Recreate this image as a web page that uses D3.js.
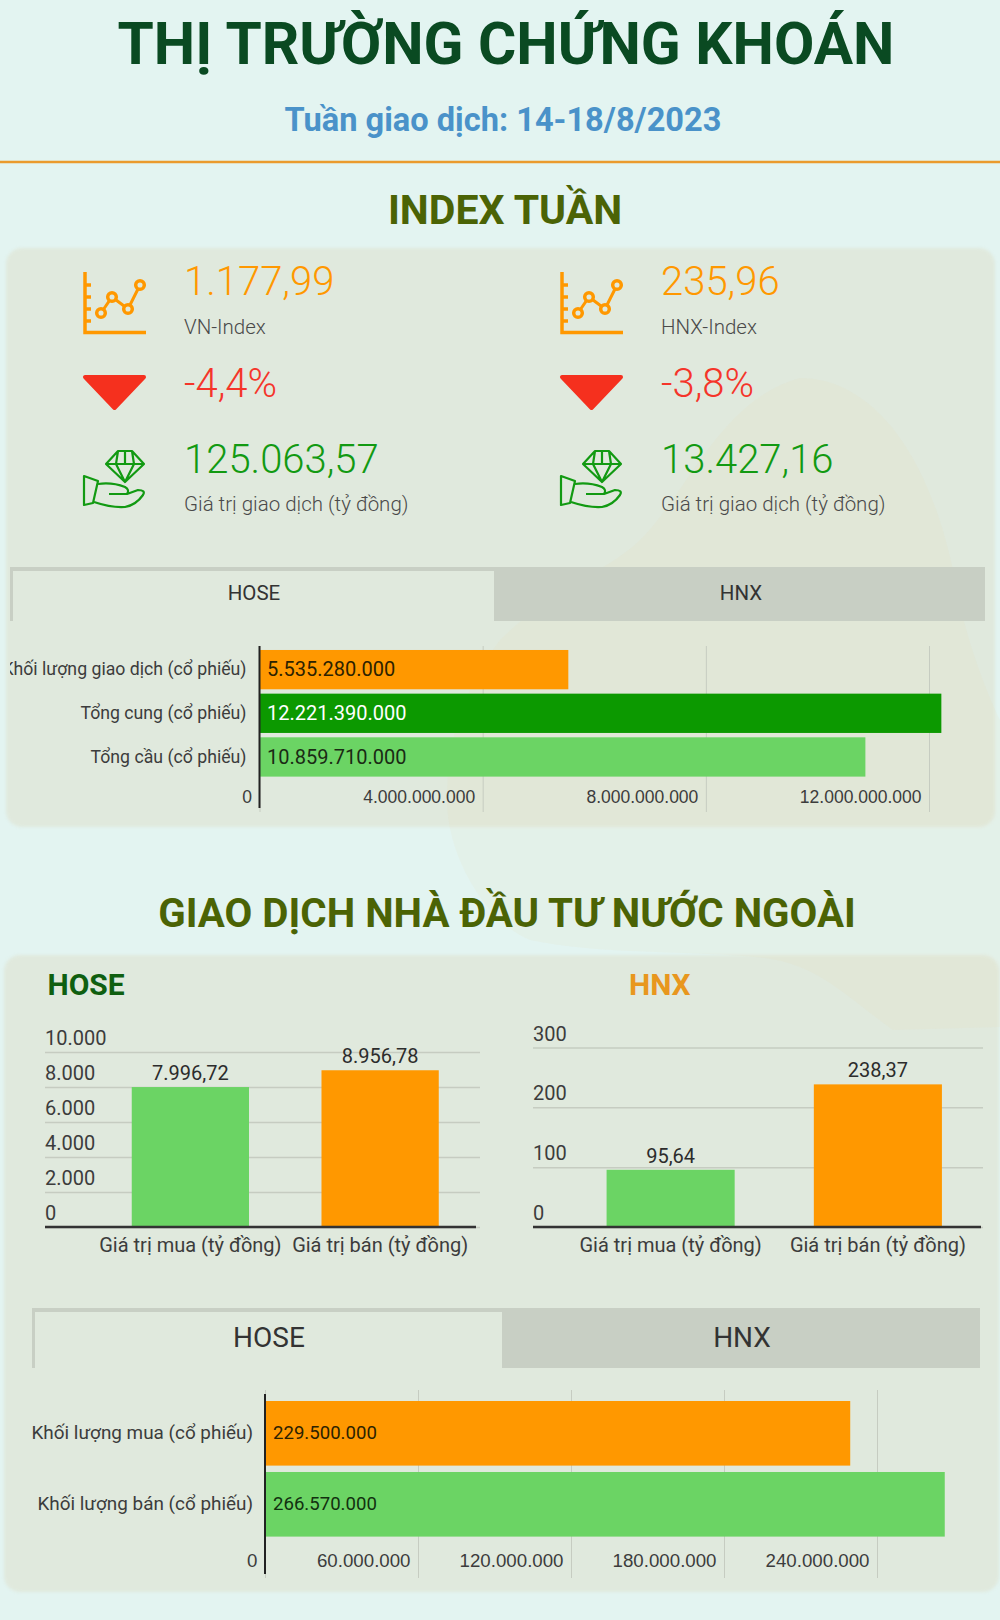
<!DOCTYPE html>
<html lang="vi">
<head>
<meta charset="utf-8">
<script src="https://cdn.jsdelivr.net/npm/d3@7"></script>
<style>
  html, body { margin: 0; background: #e3f4f1; }
  svg { display: block; font-family: Roboto, sans-serif; }
  .tick text { fill: #3c3c3c; }
  .panel { filter: blur(1.5px); }
</style>
</head>
<body>
<script>
// data
var indexNames = ["VN-Index", "HNX-Index"]
var indexPoints = [1177.99, 235.96]
var indexChanges = [-4.4, -3.8]
var indexTurnover = [125063.57, 13427.16]
var turnoverLabel = "Giá trị giao dịch (tỷ đồng)"

var volumeCats = ["Khối lượng giao dịch (cổ phiếu)", "Tổng cung (cổ phiếu)", "Tổng cầu (cổ phiếu)"]
var volumeVals = [5535280000, 12221390000, 10859710000]
var volumeTicks = [0, 4000000000, 8000000000, 12000000000]

var foreignCats = ["Giá trị mua (tỷ đồng)", "Giá trị bán (tỷ đồng)"]
var foreignHose = [7996.72, 8956.78]
var foreignHoseTicks = [0, 2000, 4000, 6000, 8000, 10000]
var foreignHnx = [95.64, 238.37]
var foreignHnxTicks = [0, 100, 200, 300]

var foreignVolCats = ["Khối lượng mua (cổ phiếu)", "Khối lượng bán (cổ phiếu)"]
var foreignVolVals = [229500000, 266570000]
var foreignVolTicks = [0, 60000000, 120000000, 180000000, 240000000]

var tabNames = ["HOSE", "HNX"]

var ORANGE = "#ff9800", LIGHT_GREEN = "#6bd464", DARK_GREEN = "#0c9900"

var vn = d3.formatLocale({ decimal: ",", thousands: ".", grouping: [3], currency: ["", ""], minus: "-" })
var fmtInt = vn.format(",d")
var fmt2 = vn.format(",.2f")
var fmtPct = vn.format(".1f")

var svg = d3.select("body").append("svg")
  .attr("width", 1000)
  .attr("height", 1620)

svg.append("defs").append("clipPath")
  .attr("id", "label-clip")
  .append("rect")
    .attr("x", 10).attr("y", 600).attr("width", 300).attr("height", 240)

function label(x, y, str, size, color, opts) {
  opts = opts || {}
  return svg.append("text")
    .attr("x", x)
    .attr("y", y)
    .attr("text-anchor", opts.anchor || "start")
    .attr("font-size", size)
    .attr("font-weight", opts.weight || 400)
    .attr("fill", color)
    .text(str)
}

// panels and the pale blob behind everything
svg.append("rect").attr("class", "panel").attr("x", 6).attr("y", 248).attr("width", 989).attr("height", 579).attr("rx", 16).attr("fill", "#e0e9dd")
svg.append("rect").attr("class", "panel").attr("x", 4).attr("y", 955).attr("width", 995).attr("height", 637).attr("rx", 16).attr("fill", "#e0e9dd")
svg.append("path")
  .attr("d", "M800,378 C870,378 930,450 955,580 C965,640 990,700 1000,720 L1000,1027 L893,1030 C850,1000 820,965 765,958 C690,950 600,955 530,940 C490,925 447,860 447,800 C447,730 470,680 500,640 C550,590 610,570 640,540 C690,490 720,400 800,378 Z")
  .attr("fill", "#e8d9a8")
  .attr("opacity", 0.1)

// headings
label(506, 64, "THỊ TRƯỜNG CHỨNG KHOÁN", 58.6, "#0a4a22", { anchor: "middle", weight: 700 })
label(503, 131, "Tuần giao dịch: 14-18/8/2023", 32.6, "#4a92c9", { anchor: "middle", weight: 700 })
svg.append("line").attr("x1", 0).attr("x2", 1000).attr("y1", 162).attr("y2", 162).attr("stroke", "#ea9a2d").attr("stroke-width", 2.5)
label(505, 224, "INDEX TUẦN", 41, "#4b6305", { anchor: "middle", weight: 700 })
label(507, 927, "GIAO DỊCH NHÀ ĐẦU TƯ NƯỚC NGOÀI", 40.3, "#4b6305", { anchor: "middle", weight: 700 })

// icons
function chartIcon(dx) {
  var g = svg.append("g").attr("transform", "translate(" + dx + ",0)")
    .attr("fill", "none").attr("stroke", ORANGE).attr("stroke-width", 3.5)
  g.append("path").attr("d", "M85,272 V332.5 H146 M85,285 H91 M85,297 H91 M85,309 H91 M85,321 H91")
  g.append("path").attr("stroke-width", 3).attr("d", "M101,313 L112,297 L128,309 L140,285")
  g.selectAll("circle").data([[101, 313], [112, 297], [128, 309], [140, 285]]).enter().append("circle")
    .attr("cx", function(d) { return d[0] })
    .attr("cy", function(d) { return d[1] })
    .attr("r", 4.3)
    .attr("fill", "#e0e9dd")
}

function downIcon(dx) {
  svg.append("path")
    .attr("transform", "translate(" + dx + ",0)")
    .attr("d", "M85,377 H144 L114.5,408 Z")
    .attr("fill", "#f5301e")
    .attr("stroke", "#f5301e")
    .attr("stroke-width", 4)
    .attr("stroke-linejoin", "round")
}

function handIcon(dx) {
  var g = svg.append("g").attr("transform", "translate(" + dx + ",0)")
    .attr("fill", "none").attr("stroke", "#129a12").attr("stroke-width", 2.2).attr("stroke-linejoin", "round")
  g.append("path").attr("d", "M118,451 H132 L144,464 L125,482 L106,464 Z M106,464 H144 M118,451 L116,464 L125,482 L134,464 L132,451 M125,451 V464")
  g.append("path").attr("d", "M84,476 L98,481 L93,503 L84,505 Z")
  g.append("path").attr("d", "M98,484 Q112,482 125,487 Q130,490 127,494 L109,494 M127,494 L138,490 Q146,490 143,495 Q136,505 125,507 Q112,508 94,502")
}

// index cards
indexNames.forEach(function(name, i) {
  var dx = i * 477
  chartIcon(dx)
  downIcon(dx)
  handIcon(dx)
  label(184 + dx, 295, fmt2(indexPoints[i]), 40, ORANGE, { weight: 300 })
  label(184 + dx, 334, name, 20.5, "#4a4a4a", { weight: 300 })
  label(184 + dx, 397, fmtPct(indexChanges[i]) + "%", 40, "#f5352a", { weight: 300 })
  label(184 + dx, 473, fmt2(indexTurnover[i]), 40, "#129a12", { weight: 300 })
  label(184 + dx, 511, turnoverLabel, 20.5, "#4a4a4a", { weight: 300 })
})

function tabs(x0, xMid, x1, y0, y1, size, baseline, centers) {
  svg.append("rect").attr("x", x0).attr("y", y0).attr("width", x1 - x0).attr("height", y1 - y0).attr("fill", "#c8cfc4")
  svg.append("rect").attr("x", x0 + 3).attr("y", y0 + 4).attr("width", xMid - x0 - 3).attr("height", y1 - y0 + 2).attr("fill", "#e0e9dd")
  tabNames.forEach(function(name, i) {
    label(centers[i], baseline, name, size, "#333", { anchor: "middle" })
  })
}

// horizontal bars with the grid ticks sitting left of each line
function hBars(o) {
  var x = d3.scaleLinear().domain(o.domain).range(o.xRange)
  var y = d3.scaleBand().domain(o.cats).range(o.yRange).paddingInner(o.pad).paddingOuter(o.pad / 2)

  svg.append("g")
    .attr("transform", "translate(0," + o.gridBottom + ")")
    .attr("font-family", "Roboto, sans-serif")
    .call(d3.axisBottom(x).tickValues(o.ticks).tickSize(o.gridTop - o.gridBottom).tickFormat(fmtInt))
    .call(function(g) { g.select(".domain").remove() })
    .call(function(g) { g.selectAll(".tick line").attr("stroke", "#c6ccc1") })
    .call(function(g) {
      g.selectAll(".tick text")
        .attr("font-size", o.tickSize)
        .attr("text-anchor", "end")
        .attr("x", -8)
        .attr("y", o.tickY)
        .attr("dy", 0)
    })

  svg.selectAll(null).data(o.cats).enter().append("rect")
    .attr("x", x(0))
    .attr("y", function(d) { return y(d) })
    .attr("width", function(d, i) { return x(o.vals[i]) - x(0) })
    .attr("height", y.bandwidth())
    .attr("fill", function(d, i) { return o.colors[i] })

  svg.append("line")
    .attr("x1", x(0)).attr("x2", x(0))
    .attr("y1", o.axisTop).attr("y2", o.axisBottom)
    .attr("stroke", "#222").attr("stroke-width", 2)

  var catAxis = svg.append("g")
    .attr("transform", "translate(" + x(0) + ",0)")
    .call(d3.axisLeft(y).tickSize(0).tickPadding(o.catPad))
    .call(function(g) { g.select(".domain").remove() })
  catAxis.selectAll(".tick text").attr("font-size", o.catSize).attr("font-family", "Roboto, sans-serif")

  svg.selectAll(null).data(o.cats).enter().append("text")
    .attr("x", x(0) + o.valPad)
    .attr("y", function(d) { return y(d) + y.bandwidth() / 2 })
    .attr("dy", "0.33em")
    .attr("font-size", o.valSize)
    .attr("fill", function(d, i) { return o.valColors[i] })
    .text(function(d, i) { return fmtInt(o.vals[i]) })

  return catAxis
}

// vertical bars, tick labels stand above the grid lines at the left end
function vBars(o) {
  var x = d3.scaleBand().domain(o.cats).range(o.xRange).paddingInner(0.382).paddingOuter(0.191)
  var y = d3.scaleLinear().domain(o.domain).range(o.yRange)
  var w = o.xEnd - o.xStart

  svg.append("g")
    .attr("transform", "translate(" + o.xStart + ",0)")
    .call(d3.axisLeft(y).tickValues(o.ticks).tickSize(-w).tickFormat(fmtInt))
    .call(function(g) { g.select(".domain").remove() })
    .call(function(g) { g.selectAll(".tick line").attr("stroke", "#c6ccc1").attr("stroke-width", 1.5) })
    .call(function(g) {
      g.selectAll(".tick text")
        .attr("font-size", 20)
        .attr("font-family", "Roboto, sans-serif")
        .attr("text-anchor", "start")
        .attr("x", 0)
        .attr("y", -7.5)
        .attr("dy", 0)
    })

  svg.selectAll(null).data(o.cats).enter().append("rect")
    .attr("x", function(d) { return x(d) })
    .attr("y", function(d, i) { return y(o.vals[i]) })
    .attr("width", x.bandwidth())
    .attr("height", function(d, i) { return y(0) - y(o.vals[i]) })
    .attr("fill", function(d, i) { return o.colors[i] })

  svg.append("line")
    .attr("x1", o.xStart).attr("x2", o.axisEnd)
    .attr("y1", y(0)).attr("y2", y(0))
    .attr("stroke", "#333").attr("stroke-width", 2.5)

  svg.append("g")
    .attr("transform", "translate(0," + y(0) + ")")
    .call(d3.axisBottom(x).tickSize(0).tickPadding(11))
    .call(function(g) { g.select(".domain").remove() })
    .call(function(g) {
      g.selectAll(".tick text")
        .attr("font-size", 20)
        .attr("font-family", "Roboto, sans-serif")
    })

  svg.selectAll(null).data(o.cats).enter().append("text")
    .attr("x", function(d) { return x(d) + x.bandwidth() / 2 })
    .attr("y", function(d, i) { return y(o.vals[i]) - 7 })
    .attr("text-anchor", "middle")
    .attr("font-size", 20)
    .attr("fill", "#2c2c2c")
    .text(function(d, i) { return fmt2(o.vals[i]) })
}

// first chart block
tabs(10, 494, 985, 567, 621, 20.5, 600, [254, 741])
var volAxis = hBars({
  cats: volumeCats, vals: volumeVals, ticks: volumeTicks,
  domain: [0, 12000000000], xRange: [259.5, 929], yRange: [647.8, 778.8], pad: 0.1,
  gridTop: 646, gridBottom: 812, axisTop: 646, axisBottom: 808,
  tickSize: 17.5, tickY: -9, catSize: 17.7, catPad: 13,
  colors: [ORANGE, DARK_GREEN, LIGHT_GREEN],
  valColors: ["#2c2200", "#ffffff", "#1a2a14"], valPad: 7.5, valSize: 20
})
// the long category label is cut at the panel edge, same as the picture
svg.append("g").attr("clip-path", "url(#label-clip)").node().appendChild(volAxis.node())

// foreign investors block
label(47.5, 995, "HOSE", 30, "#0f5f10", { weight: 700 })
label(629, 995, "HNX", 30, "#e8971e", { weight: 700 })

vBars({
  cats: foreignCats, vals: foreignHose, ticks: foreignHoseTicks,
  domain: [0, 10000], xRange: [95.5, 475], yRange: [1227, 1052],
  xStart: 45, xEnd: 480, axisEnd: 476,
  colors: [LIGHT_GREEN, ORANGE]
})
vBars({
  cats: foreignCats, vals: foreignHnx, ticks: foreignHnxTicks,
  domain: [0, 300], xRange: [567, 981.5], yRange: [1227, 1047.5],
  xStart: 533, xEnd: 983, axisEnd: 981,
  colors: [LIGHT_GREEN, ORANGE]
})

tabs(32, 502, 980, 1308, 1368, 28, 1347, [269, 742])
hBars({
  cats: foreignVolCats, vals: foreignVolVals, ticks: foreignVolTicks,
  domain: [0, 240000000], xRange: [265, 877], yRange: [1397.8, 1539.8], pad: 0.09,
  gridTop: 1390, gridBottom: 1578, axisTop: 1394, axisBottom: 1574,
  tickSize: 18.7, tickY: -11, catSize: 18.9, catPad: 12,
  colors: [ORANGE, LIGHT_GREEN],
  valColors: ["#2c2200", "#12300f"], valPad: 8, valSize: 18.6
})
</script>
</body>
</html>
